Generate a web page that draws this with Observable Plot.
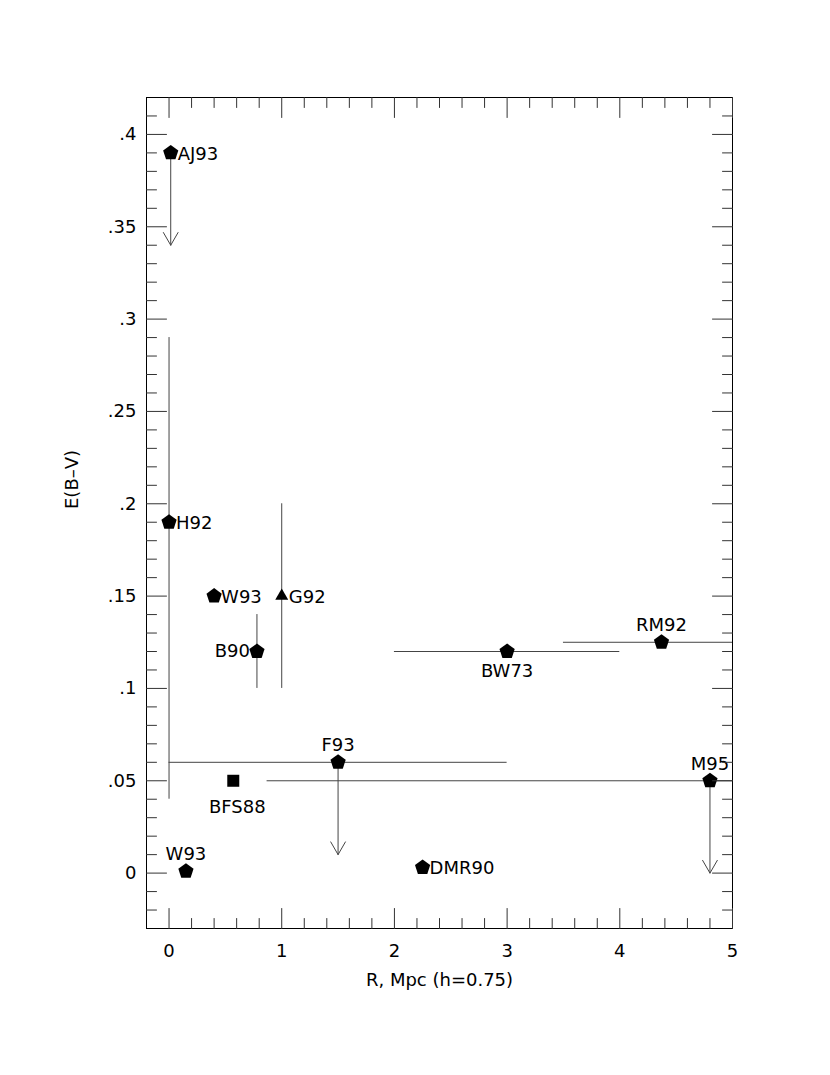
<!DOCTYPE html>
<html><head><meta charset="utf-8">
<script src="https://cdn.jsdelivr.net/npm/d3@7"></script>
<script src="https://cdn.jsdelivr.net/npm/@observablehq/plot@0.6"></script>
<style>body{margin:0;background:#fff}</style>
</head><body><div id="chart"></div>
<script>
// ---- data ----
const names   = ["AJ93", "H92", "W93", "G92", "B90", "BW73", "RM92", "F93", "BFS88", "M95", "W93", "DMR90"];
const radius  = [0.015, 0, 0.40, 1.0, 0.78, 3.0, 4.37, 1.5, 0.57, 4.8, 0.15, 2.25];      // R, Mpc
const ebv     = [0.39, 0.19, 0.15, 0.15, 0.12, 0.12, 0.125, 0.06, 0.05, 0.05, 0.001, 0.003]; // E(B-V)
const shapes  = ["pentagon","pentagon","pentagon","triangle","pentagon","pentagon","pentagon","pentagon","square","pentagon","pentagon","pentagon"];
const labelSide = ["right","right","right","right","left","below","above","above","belowFar","above","above","right"];
const yErrLo  = [null, 0.04, null, 0.10, 0.10, null, null, null, null, null, null, null];
const yErrHi  = [null, 0.29, null, 0.20, 0.14, null, null, null, null, null, null, null];
const xErrLo  = [null, null, null, null, null, 2.0, 3.5, 0.0, null, 0.87, null, null];
const xErrHi  = [null, null, null, null, null, 4.0, 5.0, 3.0, null, 5.0, null, null];
const upperLimitTo = [0.34, null, null, null, null, null, null, 0.01, null, 0.0, null, null];

const xTicks = [0, 1, 2, 3, 4, 5];
const yTicks = [0, 0.05, 0.1, 0.15, 0.2, 0.25, 0.3, 0.35, 0.4];
const xLabel = "R, Mpc (h=0.75)";
const yLabel = "E(B\u2013V)";

const points = names.map((name, i) => ({
  name, r: radius[i], e: ebv[i], shape: shapes[i], side: labelSide[i],
  yLo: yErrLo[i], yHi: yErrHi[i], xLo: xErrLo[i], xHi: xErrHi[i], lim: upperLimitTo[i]
}));

// ---- symbols ----
const pentagon = {draw(ctx, size) {
  const R = Math.sqrt(size / Math.PI);
  for (let i = 0; i < 5; i++) {
    const a = -Math.PI / 2 + i * 2 * Math.PI / 5;
    const x = R * Math.cos(a), y = R * Math.sin(a);
    i ? ctx.lineTo(x, y) : ctx.moveTo(x, y);
  }
  ctx.closePath();
}};
const triangle = {draw(ctx, size) {
  const R = Math.sqrt(size / Math.PI);
  for (let i = 0; i < 3; i++) {
    const a = -Math.PI / 2 + i * 2 * Math.PI / 3;
    const x = R * Math.cos(a), y = R * Math.sin(a);
    i ? ctx.lineTo(x, y) : ctx.moveTo(x, y);
  }
  ctx.closePath();
}};
const square = {draw(ctx, size) {
  const s = Math.sqrt(size / Math.PI);
  ctx.rect(-s, -s, 2 * s, 2 * s);
}};
const tickLine = {draw(ctx, l) { ctx.moveTo(0, 0); ctx.lineTo(0, -l); }};

// ---- ticks ----
const xDomain = [-0.2, 5];
const yDomain = [-0.03, 0.42];
const xMinor = d3.range(-1, 26).map(i => +(i * 0.2).toFixed(2)).filter(v => v > xDomain[0] && v < xDomain[1] && !xTicks.includes(v));
const yMinor = d3.range(-2, 42).map(i => +(i * 0.01).toFixed(2)).filter(v => v > yDomain[0] && v < yDomain[1] && !yTicks.some(t => Math.abs(t - v) < 1e-9));
const tickColor = "#333";
function ticks(values, channel, anchor, rotate, length) {
  return Plot.vector(values, {[channel]: d => d, frameAnchor: anchor, rotate, length, anchor: "start",
    shape: tickLine, stroke: tickColor, strokeWidth: 1});
}
const yFmt = d => d === 0 ? "0" : String(+d.toFixed(2)).replace(/^0\./, ".");

const barColor = "#444";
const off = {right: {textAnchor: "start", dx: 7, dy: 1}, left: {textAnchor: "end", dx: -7, dy: 0},
  above: {textAnchor: "middle", dx: 0, dy: -17}, below: {textAnchor: "middle", dx: 0, dy: 20},
  belowFar: {textAnchor: "middle", dx: 4, dy: 26}};

const chart = Plot.plot({
  width: 830, height: 1075,
  marginLeft: 146, marginRight: 98, marginTop: 97, marginBottom: 147,
  style: {fontFamily: "'DejaVu Sans', sans-serif", fontSize: "18px", background: "white", color: "black"},
  x: {domain: xDomain},
  y: {domain: yDomain},
  marks: [
    Plot.ruleX(points.filter(d => d.yLo != null), {x: "r", y1: "yLo", y2: "yHi", stroke: barColor, strokeWidth: 1}),
    Plot.ruleY(points.filter(d => d.xLo != null), {y: "e", x1: "xLo", x2: "xHi", stroke: barColor, strokeWidth: 1}),
    Plot.arrow(points.filter(d => d.lim != null), {x1: "r", x2: "r", y1: "e", y2: "lim", stroke: barColor, strokeWidth: 1, headLength: 22, headAngle: 60}),
    Plot.dot(points.filter(d => d.shape === "pentagon"), {x: "r", y: "e", r: 8, symbol: pentagon, fill: "black", stroke: "none"}),
    Plot.dot(points.filter(d => d.shape === "triangle"), {x: "r", y: "e", r: 7.5, symbol: triangle, fill: "black", stroke: "none"}),
    Plot.dot(points.filter(d => d.shape === "square"), {x: "r", y: "e", r: 6, symbol: square, fill: "black", stroke: "none"}),
    ...Object.keys(off).map(k => Plot.text(points.filter(d => d.side === k), {x: "r", y: "e", text: "name", fill: "black", ...off[k]})),
    Plot.frame({stroke: "black", strokeWidth: 1}),
    ticks(xTicks, "x", "bottom", 0, 20), ticks(xMinor, "x", "bottom", 0, 10),
    ticks(xTicks, "x", "top", 180, 20), ticks(xMinor, "x", "top", 180, 10),
    ticks(yTicks, "y", "left", 90, 20), ticks(yMinor, "y", "left", 90, 10),
    ticks(yTicks, "y", "right", -90, 20), ticks(yMinor, "y", "right", -90, 10),
    Plot.axisX({ticks: xTicks, tickSize: 0, tickPadding: 16, label: null, tickFormat: d => String(d)}),
    Plot.axisY({ticks: yTicks, tickSize: 0, tickPadding: 10, label: null, tickFormat: yFmt}),
    Plot.text([xLabel], {frameAnchor: "bottom", dy: 57, text: d => d, fill: "black"}),
    Plot.text([yLabel], {frameAnchor: "left", rotate: -90, dx: -74, dy: -4, text: d => d, fill: "black"})
  ]
});
document.getElementById("chart").appendChild(chart);
</script>
</body></html>
